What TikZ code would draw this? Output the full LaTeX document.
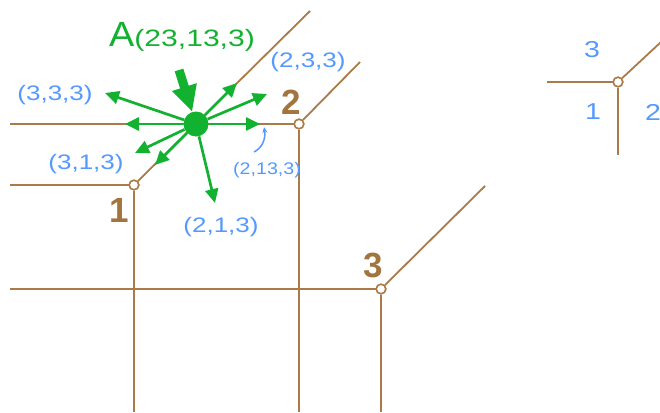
\documentclass[tikz,border=0pt]{standalone}
\usepackage{graphicx}
\usepackage{fontspec}
\setmainfont{Liberation Sans}
\usetikzlibrary{arrows.meta}
\definecolor{brn}{RGB}{170,122,72}
\definecolor{brnt}{RGB}{163,117,62}
\definecolor{grn}{RGB}{18,178,48}
\definecolor{blu}{RGB}{85,153,255}
\newcommand\wx[2]{\scalebox{#1}[1]{#2}}
\begin{document}
\begin{tikzpicture}[x=1pt,y=-1pt,
  edge/.style={draw=brn,line width=1.8pt},
  vtx/.style={circle,draw=brn,fill=white,line width=1.5pt,minimum size=9.5pt,inner sep=0pt},
  garrow/.style={draw=grn,line width=2.7pt,-{Triangle[length=14pt,width=13pt]}},
  blab/.style={text=blu,inner sep=0pt,font=\fontsize{21}{21}\selectfont},
  nlab/.style={text=brnt,inner sep=0pt,font=\fontsize{35}{35}\selectfont\bfseries},
  llab/.style={text=blu,inner sep=0pt,font=\fontsize{23}{23}\selectfont}]
\useasboundingbox (0,0) rectangle (660,412);
% vertices
\node[vtx] (v1) at (134,185) {};
\node[vtx] (v2) at (299,124) {};
\node[vtx] (v3) at (381,289) {};
\node[vtx] (vl) at (618,82) {};
% free ends
\coordinate (h1) at (10,185);
\coordinate (b1) at (134,412);
\coordinate (d1) at (310,11);
\coordinate (h2) at (10,124);
\coordinate (b2) at (299,412);
\coordinate (d2) at (360,62);
\coordinate (h3) at (10,289);
\coordinate (b3) at (381,412);
\coordinate (d3) at (485,186);
\coordinate (hl) at (547,82);
\coordinate (bl) at (618,155);
\coordinate (dl) at (661,42);
% edges
\draw[edge] (h1) -- (v1); \draw[edge] (v1) -- (b1); \draw[edge] (v1) -- (d1);
\draw[edge] (h2) -- (v2); \draw[edge] (v2) -- (b2); \draw[edge] (v2) -- (d2);
\draw[edge] (h3) -- (v3); \draw[edge] (v3) -- (b3); \draw[edge] (v3) -- (d3);
\draw[edge] (hl) -- (vl); \draw[edge] (vl) -- (bl); \draw[edge] (vl) -- (dl);
\node[vtx] at (v1) {};
\node[vtx] at (v2) {};
\node[vtx] at (v3) {};
\node[vtx] at (vl) {};
% point A and arrows
\node[circle,fill=grn,minimum size=25pt,inner sep=0pt] (A) at (196,124) {};
\coordinate (t333) at (105,93);
\coordinate (tl) at (125,124);
\coordinate (t313) at (135,153);
\coordinate (tdl) at (155,165);
\coordinate (t213) at (215,203);
\coordinate (tr) at (260,124);
\coordinate (tur) at (267,94);
\coordinate (t233) at (237,83);
\coordinate (tail) at (179,70);
\foreach \t in {t333,tl,t313,tdl,t213,tr,tur,t233} \draw[garrow] (A) -- (\t);
\draw[draw=grn,line width=9pt,-{Triangle[length=26pt,width=24pt]}] (tail) -- (A);
% labels
\node[anchor=base west,inner sep=0pt,text=grn] (Alab) at (109,47)
  {\wx{1.08}{\fontsize{35}{35}\selectfont A}\wx{1.27}{\fontsize{23.7}{24}\selectfont(23,13,3)}};
\node[blab] (l333) at (55,95.5) {\wx{1.24}{(3,3,3)}};
\node[blab] (l233) at (308,62) {\wx{1.24}{(2,3,3)}};
\node[blab] (l313) at (86,164) {\wx{1.24}{(3,1,3)}};
\node[blab] (l213) at (221,227) {\wx{1.24}{(2,1,3)}};
\node[blab,font=\fontsize{16.8}{17}\selectfont] (l2133) at (267,170.5) {\wx{1.17}{(2,13,3)}};
\coordinate (cs) at (254,152);
\coordinate (ce) at (264,127);
\draw[draw=blu,line width=1.5pt,-{Stealth[length=6pt,width=5pt]}] (cs) .. controls (262,148) and (266,139) .. (ce);
\node[nlab] (n1) at (119,210) {1};
\node[nlab] (n2) at (291,102.5) {2};
\node[nlab] (n3) at (373,265.5) {3};
\node[llab] (lg3) at (592,50) {\wx{1.24}{3}};
\node[llab] (lg1) at (593,112) {\wx{1.24}{1}};
\node[llab] (lg2) at (653,112) {\wx{1.24}{2}};
\end{tikzpicture}
\end{document}
